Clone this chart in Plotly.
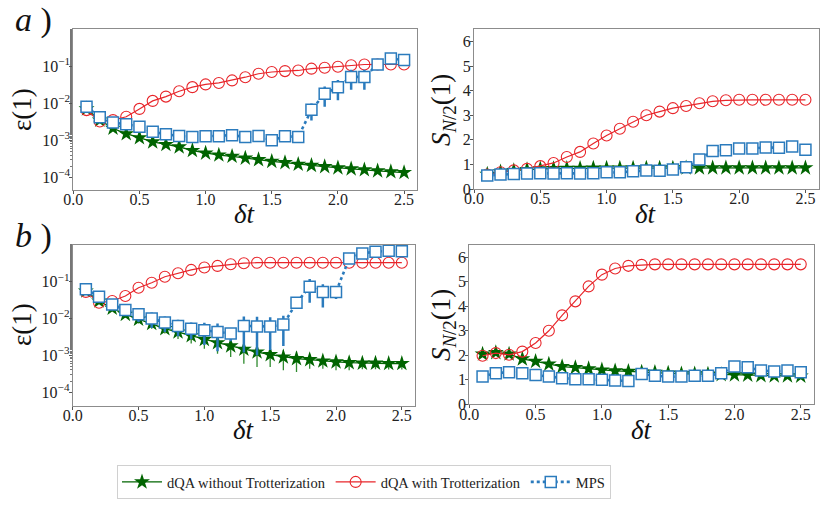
import plotly.graph_objects as go

# ---------------- data ----------------
dt = [0.1, 0.2, 0.3, 0.4, 0.5, 0.6, 0.7, 0.8, 0.9, 1.0, 1.1, 1.2, 1.3,
      1.4, 1.5, 1.6, 1.7, 1.8, 1.9, 2.0, 2.1, 2.2, 2.3, 2.4, 2.5]

# panel a) residual energy
a_err_notrot = [7e-3, 3.5e-3, 2.1e-3, 1.5e-3, 1.17e-3, 9e-4, 7.7e-4, 6.6e-4, 5.3e-4,
                4.5e-4, 4e-4, 3.7e-4, 3.3e-4, 3e-4, 2.7e-4, 2.5e-4, 2.25e-4, 2.1e-4,
                1.95e-4, 1.8e-4, 1.7e-4, 1.6e-4, 1.5e-4, 1.42e-4, 1.35e-4]
a_err_trot = [6.5e-3, 3.2e-3, 3.5e-3, 4.3e-3, 7e-3, 1.15e-2, 1.5e-2, 2.1e-2, 2.7e-2,
              3.2e-2, 3.5e-2, 4.1e-2, 5e-2, 6.2e-2, 6.9e-2, 7.3e-2, 7.6e-2, 8.5e-2,
              9e-2, 9.6e-2, 0.105, 0.11, 0.11, 0.11, 0.11]
a_err_mps = [8e-3, 4.2e-3, 3e-3, 2.7e-3, 2.3e-3, 1.7e-3, 1.45e-3, 1.3e-3, 1.23e-3,
             1.28e-3, 1.28e-3, 1.37e-3, 1.23e-3, 1.3e-3, 1e-3, 1.28e-3, 1.23e-3,
             6.6e-3, 1.8e-2, 2.7e-2, 5.1e-2, 5.1e-2, 0.11, 0.16, 0.145]
a_err_mps_sd = [0, 0, 0, 0, 0, 0, 0, 0, 0, 0, 0, 0, 0, 0, 0, 0, 0,
                3.2e-3, 1e-2, 1.5e-2, 2.8e-2, 2.8e-2, 0, 0, 0]

# panel a) half-chain entanglement entropy
a_ent_notrot = [0.6, 0.7, 0.75, 0.79, 0.82, 0.83, 0.84, 0.84, 0.85, 0.85, 0.85, 0.85,
                0.85, 0.85, 0.85, 0.86, 0.86, 0.86, 0.86, 0.86, 0.86, 0.86, 0.86,
                0.86, 0.86]
a_ent_notrot_sd = [0.08] * 25
a_ent_trot = [0.59, 0.68, 0.76, 0.82, 0.93, 1.06, 1.3, 1.51, 1.85, 2.18, 2.45, 2.74,
              3.0, 3.15, 3.29, 3.38, 3.49, 3.57, 3.61, 3.63, 3.63, 3.63, 3.63, 3.63,
              3.63]
a_ent_mps = [0.55, 0.59, 0.61, 0.63, 0.64, 0.63, 0.64, 0.63, 0.64, 0.68, 0.68, 0.72,
             0.75, 0.74, 0.79, 0.89, 1.2, 1.55, 1.58, 1.65, 1.65, 1.69, 1.68, 1.73,
             1.6]

# panel b) residual energy
b_err_notrot = [5.6e-2, 3e-2, 1.9e-2, 1.3e-2, 9.6e-3, 7.3e-3, 5.3e-3, 4.3e-3, 3.4e-3,
                2.7e-3, 2.2e-3, 1.8e-3, 1.46e-3, 1.23e-3, 1.04e-3, 9e-4, 8.1e-4,
                7.6e-4, 7e-4, 6.6e-4, 6.3e-4, 6.1e-4, 6.1e-4, 6e-4, 6e-4]
b_err_notrot_sd = [1e-3, 1.5e-3, 2e-3, 2.5e-3, 2.3e-3, 2e-3, 1.4e-3, 1.5e-3, 1.3e-3,
                   1.2e-3, 1.1e-3, 9e-4, 8.7e-4, 7.5e-4, 5.6e-4, 5.1e-4, 4.6e-4,
                   3.3e-4, 2.7e-4, 2.7e-4, 2.4e-4, 1.9e-4, 1.9e-4, 1.9e-4, 1.9e-4]
b_err_trot = [5.3e-2, 2.7e-2, 3e-2, 4.1e-2, 6.9e-2, 9.4e-2, 0.137, 0.17, 0.21, 0.245,
              0.27, 0.3, 0.32, 0.33, 0.33, 0.33, 0.33, 0.33, 0.33, 0.33, 0.33, 0.33,
              0.33, 0.33, 0.33]
b_err_mps = [6.3e-2, 3.9e-2, 2.4e-2, 1.7e-2, 1.3e-2, 1e-2, 7.8e-3, 6.3e-3, 5.3e-3,
             4.8e-3, 4.3e-3, 3.9e-3, 6.3e-3, 6.1e-3, 6.1e-3, 6.9e-3, 2.7e-2, 7.3e-2,
             5.3e-2, 5.3e-2, 0.43, 0.59, 0.66, 0.7, 0.68]
b_err_mps_sd = [0, 0, 3e-3, 5e-3, 5e-3, 4.5e-3, 3.5e-3, 3e-3, 2.5e-3, 2.9e-3, 3e-3,
                1.5e-3, 5.1e-3, 5.1e-3, 4.7e-3, 5.1e-3, 8e-3, 4.6e-2, 3.3e-2, 1.9e-2,
                0, 0, 0, 0, 0]

# panel b) half-chain entanglement entropy
b_ent_notrot = [2.05, 2.11, 2.05, 1.85, 1.75, 1.64, 1.54, 1.5, 1.45, 1.4, 1.36, 1.34,
                1.31, 1.3, 1.27, 1.24, 1.24, 1.23, 1.21, 1.2, 1.19, 1.17, 1.16, 1.16,
                1.15]
b_ent_notrot_sd = [0.07] * 25
b_ent_trot = [1.98, 2.09, 2.02, 2.15, 2.5, 3.0, 3.63, 4.2, 4.81, 5.29, 5.54, 5.65,
              5.69, 5.71, 5.71, 5.71, 5.71, 5.71, 5.71, 5.71, 5.71, 5.71, 5.71, 5.71,
              5.71]
b_ent_mps = [1.13, 1.27, 1.31, 1.27, 1.2, 1.13, 1.06, 1.02, 1.02, 1.0, 0.97, 0.95,
             1.24, 1.16, 1.13, 1.13, 1.17, 1.16, 1.27, 1.54, 1.51, 1.38, 1.34, 1.38,
             1.31]

names = ["dQA without Trotterization", "dQA with Trotterization", "MPS"]
log_tickvals = [1e-4, 1e-3, 1e-2, 1e-1]
log_ticktext = ["10<sup>−4</sup>", "10<sup>−3</sup>", "10<sup>−2</sup>", "10<sup>−1</sup>"]
lin_tickvals = [0, 1, 2, 3, 4, 5, 6]
x_tickvals = [0.0, 0.5, 1.0, 1.5, 2.0, 2.5]
x_ticktext = ["0.0", "0.5", "1.0", "1.5", "2.0", "2.5"]
err_label = "ε(1)"
ent_label = "<i>S</i><sub><i>N</i>/2</sub>(1)"
dt_label = "<i>δt</i>"
panel_labels = ["<i>a</i> )", "<i>b</i> )"]

# ---------------- styles ----------------
GREEN = "#006400"
RED = "#e8262b"
BLUE = "#2b7bbd"
FONT = "'Liberation Serif', 'DejaVu Serif', serif"

fig = go.Figure()


def add_panel(xa, ya, g, g_sd, r, b, b_sd, show):
    suffix_x = "x" if xa == 1 else f"x{xa}"
    suffix_y = "y" if ya == 1 else f"y{ya}"
    gtrace = dict(x=dt, y=g, mode="lines+markers", name=names[0],
                  line=dict(color=GREEN, width=1.3),
                  marker=dict(symbol="star", size=12, color=GREEN,
                              line=dict(width=0)),
                  xaxis=suffix_x, yaxis=suffix_y, legendgroup="g", showlegend=show)
    if g_sd is not None:
        gtrace["error_y"] = dict(type="data", array=g_sd, color="#2e8b2e",
                                 thickness=1.3, width=0)
    fig.add_trace(go.Scatter(**gtrace))
    fig.add_trace(go.Scatter(
        x=dt, y=r, mode="lines+markers", name=names[1],
        line=dict(color=RED, width=1.2),
        marker=dict(symbol="circle", size=11, color="rgba(0,0,0,0)",
                    line=dict(color=RED, width=1.1)),
        xaxis=suffix_x, yaxis=suffix_y, legendgroup="r", showlegend=show))
    btrace = dict(x=dt, y=b, mode="lines+markers", name=names[2],
                  line=dict(color=BLUE, width=2.6, dash="dot"),
                  marker=dict(symbol="square", size=11, color="white",
                              line=dict(color=BLUE, width=1.5)),
                  xaxis=suffix_x, yaxis=suffix_y, legendgroup="b", showlegend=show)
    if b_sd is not None:
        btrace["error_y"] = dict(type="data", array=b_sd, color=BLUE,
                                 thickness=2.5, width=0)
    fig.add_trace(go.Scatter(**btrace))


add_panel(1, 1, a_err_notrot, None, a_err_trot, a_err_mps, a_err_mps_sd, True)
add_panel(2, 2, a_ent_notrot, a_ent_notrot_sd, a_ent_trot, a_ent_mps, None, False)
add_panel(3, 3, b_err_notrot, b_err_notrot_sd, b_err_trot, b_err_mps, b_err_mps_sd, False)
add_panel(4, 4, b_ent_notrot, b_ent_notrot_sd, b_ent_trot, b_ent_mps, None, False)

W, H = 830, 511


def xd(a, b):
    return [a / W, b / W]


def yd(top, bottom):
    return [1 - bottom / H, 1 - top / H]


axis_common = dict(showgrid=False, zeroline=False, showline=True, mirror=True,
                   linecolor="#8c8c8c", linewidth=1, ticks="outside", ticklen=3,
                   tickcolor="#555555", automargin=False,
                   tickfont=dict(family=FONT, size=16, color="#222"))

xaxis_common = dict(axis_common, range=[0, 2.6], tickvals=x_tickvals, ticktext=x_ticktext,
                    ticklabelstandoff=-8)
yaxis_common = dict(axis_common, ticklabelstandoff=-4)
log_minor = dict(ticks="outside", ticklen=2, tickcolor="#777", showgrid=False)

fig.update_layout(
    width=W, height=H, autosize=False,
    margin=dict(l=0, r=0, t=0, b=0, pad=0, autoexpand=False),
    paper_bgcolor="white", plot_bgcolor="white",
    font=dict(family=FONT),
    xaxis=dict(xaxis_common, domain=xd(73.3, 417.3), anchor="y"),
    yaxis=dict(yaxis_common, type="log", range=[-4.34, -0.01], domain=yd(29.3, 190),
               anchor="x", tickvals=log_tickvals, ticktext=log_ticktext, minor=log_minor),
    xaxis2=dict(xaxis_common, domain=xd(474, 818.7), anchor="y2"),
    yaxis2=dict(yaxis_common, range=[0, 6.5], domain=yd(29.3, 189), anchor="x2",
                tickvals=lin_tickvals),
    xaxis3=dict(xaxis_common, domain=xd(72.7, 415), anchor="y3"),
    yaxis3=dict(yaxis_common, type="log", range=[-4.37, 0.0], domain=yd(245, 405.7),
                anchor="x3", tickvals=log_tickvals, ticktext=log_ticktext, minor=log_minor),
    xaxis4=dict(xaxis_common, domain=xd(469.3, 814), anchor="y4"),
    yaxis4=dict(yaxis_common, range=[0, 6.5], domain=yd(245, 404.3), anchor="x4",
                tickvals=lin_tickvals),
    legend=dict(orientation="h", x=117 / W, y=1 - 465 / H, xanchor="left", yanchor="top",
                bordercolor="#d0d0d0", borderwidth=1, bgcolor="white",
                font=dict(family=FONT, size=14.5, color="#222"),
                itemwidth=40),
    showlegend=True,
)

title_font = dict(family=FONT, size=27, color="#111")


def label(text, xpx, ypx, angle=0, font=title_font):
    fig.add_annotation(text=text, x=xpx / W, y=1 - ypx / H, xref="paper", yref="paper",
                       xanchor="center", yanchor="middle", textangle=angle,
                       showarrow=False, font=font)


# axis titles
label(err_label, 22, 110, -90)
label(err_label, 22, 325, -90)
label(ent_label, 443, 110, -90)
label(ent_label, 443, 325, -90)
label(dt_label, 245, 214)
label(dt_label, 646, 214)
label(dt_label, 244, 430)
label(dt_label, 642, 430)

# panel labels
big_font = dict(family=FONT, size=34, color="#111")
label(panel_labels[0], 33, 20, 0, big_font)
label(panel_labels[1], 33, 236, 0, big_font)

fig.write_html("out.html",
               config={"displayModeBar": False},
               post_script="document.body.style.margin='0';document.body.style.overflow='hidden';")
